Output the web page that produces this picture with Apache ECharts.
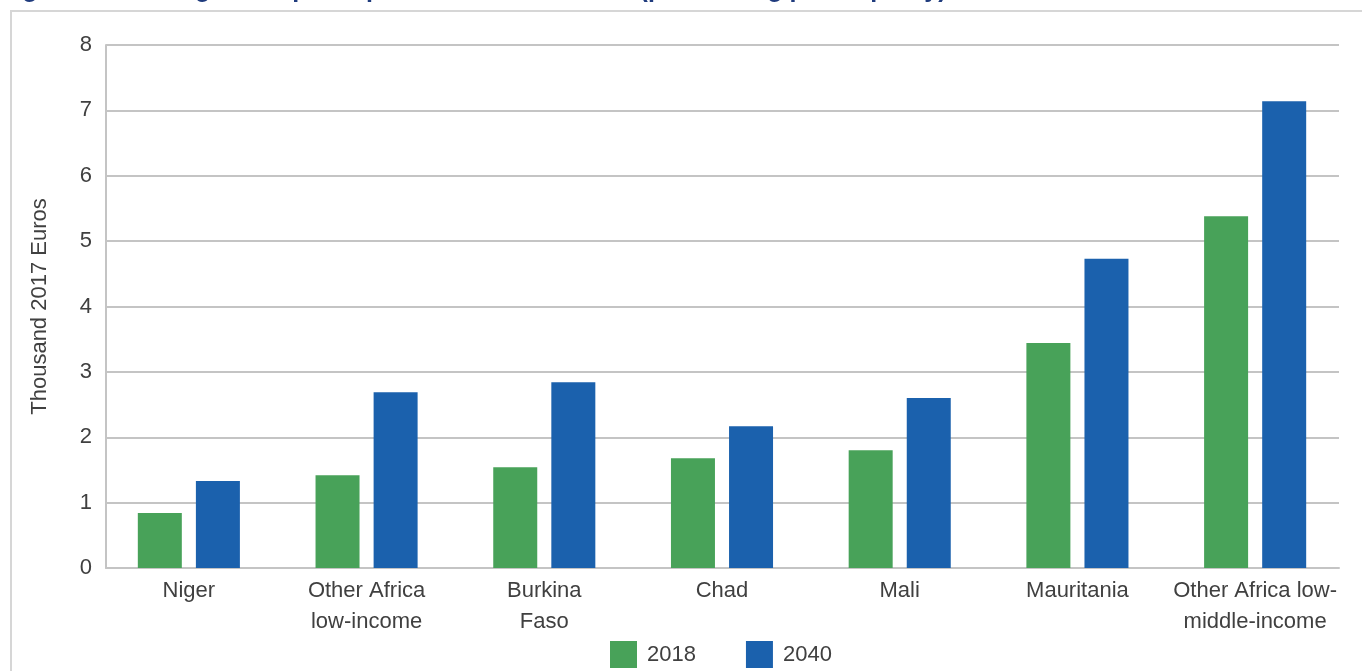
<!DOCTYPE html>
<html>
<head>
<meta charset="utf-8">
<script src="https://cdn.jsdelivr.net/npm/echarts@6/dist/echarts.min.js"></script>
<style>
html,body{margin:0;padding:0;background:#fff;}
#chart{width:1362px;height:671px;}
</style>
</head>
<body>
<div id="chart"></div>
<script>
var categories = ["Niger", "Other Africa\nlow-income", "Burkina\nFaso", "Chad", "Mali", "Mauritania", "Other Africa low-\nmiddle-income"];
var seriesNames = ["2018", "2040"];
var values2018 = [0.84, 1.42, 1.54, 1.68, 1.80, 3.44, 5.38];
var values2040 = [1.33, 2.69, 2.84, 2.17, 2.60, 4.73, 7.14];
var yTicks = [0, 1, 2, 3, 4, 5, 6, 7, 8];
var titleText = "Figure 14: Average GDP per capita in Sahel countries (purchasing power parity)";
var yAxisName = "Thousand 2017 Euros";

var FONT = "'Liberation Sans', Arial, Helvetica, sans-serif";
var TXT = '#404040';
var chart = echarts.init(document.getElementById('chart'), null, {renderer: 'canvas'});
var option = {
  animation: false,
  backgroundColor: '#ffffff',
  textStyle: {fontFamily: FONT},
  graphic: [
    {type: 'rect', shape: {x: 11, y: 11, width: 1420, height: 720}, style: {fill: 'none', stroke: '#d6d6d6', lineWidth: 2}, silent: true, z: -1},
    {type: 'text', x: 0, y: -10, style: {text: titleText, fill: '#1f3b7d', font: 'bold 25px ' + FONT, verticalAlign: 'middle'}, silent: true}
  ],
  color: ['#48a259', '#1b61ad'],
  legend: {
    data: seriesNames,
    top: 641,
    left: 610,
    itemWidth: 27,
    itemHeight: 27,
    itemGap: 50,
    padding: 0,
    icon: 'rect',
    textStyle: {fontSize: 22, color: TXT, fontFamily: FONT, padding: [0, 0, 0, 5]}
  },
  grid: [
    {left: 100, right: 18, top: 45, bottom: 103},
    {left: 106, right: 23, top: 45, bottom: 103}
  ],
  xAxis: [
    {
      type: 'category', gridIndex: 0, data: categories,
      axisLine: {show: false}, axisTick: {show: false},
      axisLabel: {fontSize: 22, color: TXT, lineHeight: 31, margin: 7, interval: 0, fontFamily: FONT}
    },
    {
      type: 'category', gridIndex: 1, data: categories,
      axisLine: {show: true, lineStyle: {color: '#c4c4c4', width: 2}},
      axisTick: {show: false}, axisLabel: {show: false}
    }
  ],
  yAxis: [
    {type: 'value', gridIndex: 0, min: 0, max: 8, interval: 1, show: false, splitLine: {show: false}},
    {
      type: 'value', gridIndex: 1, min: yTicks[0], max: yTicks[yTicks.length - 1], interval: 1,
      name: yAxisName, nameLocation: 'middle', nameGap: 55, nameRotate: 90,
      nameTextStyle: {fontSize: 22, color: TXT, fontFamily: FONT},
      axisLine: {show: true, lineStyle: {color: '#c4c4c4', width: 2}},
      axisTick: {show: false},
      axisLabel: {fontSize: 22, color: TXT, margin: 14, fontFamily: FONT},
      splitLine: {show: true, lineStyle: {color: '#c4c4c4', width: 2}}
    }
  ],
  series: [
    {name: seriesNames[0], type: 'bar', xAxisIndex: 0, yAxisIndex: 0, data: values2018, barWidth: 44, barGap: '32%', z: 3},
    {name: seriesNames[1], type: 'bar', xAxisIndex: 0, yAxisIndex: 0, data: values2040, barWidth: 44, barGap: '32%', z: 3}
  ]
};
chart.setOption(option);
</script>
</body>
</html>
